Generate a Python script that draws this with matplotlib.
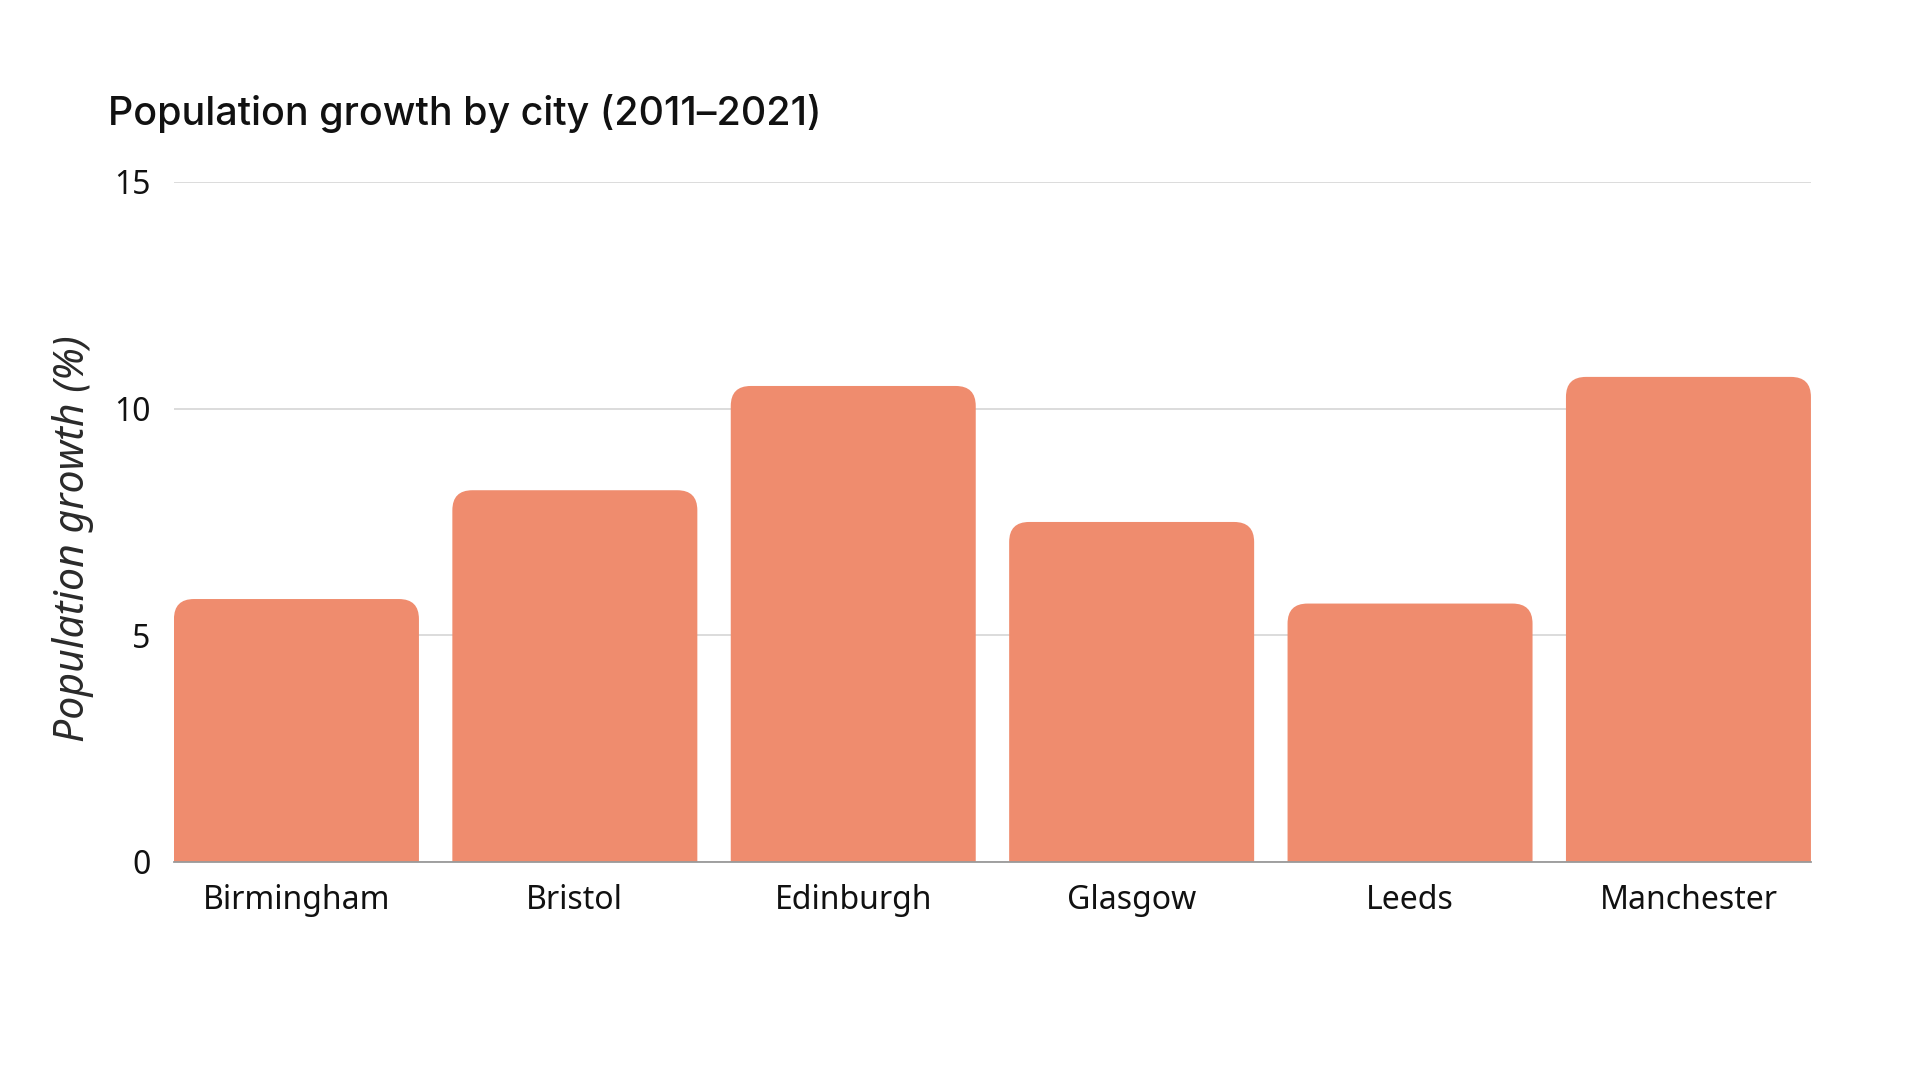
import matplotlib.pyplot as plt
from matplotlib.patches import FancyBboxPatch

# data
cities = ["Birmingham", "Bristol", "Edinburgh", "Glasgow", "Leeds", "Manchester"]
growth = [5.8, 8.2, 10.5, 7.5, 5.7, 10.7]
yticks = [0, 5, 10, 15]

BAR_COLOR = "#EF8C6E"
W = 0.88

fig = plt.figure(figsize=(19.2, 10.8), dpi=100)
ax = fig.add_axes([0.0906, 0.2019, 0.9432 - 0.0906, 0.8315 - 0.2019])

bars = ax.bar(range(len(cities)), growth, W, color=BAR_COLOR)
ax.set_xlim(-W / 2, len(cities) - 1 + W / 2)
ax.set_ylim(0, 15)

# swap plain bars for ones with rounded top corners
fig.canvas.draw()
x0, y0 = ax.transData.transform((0, 0))
x1, y1 = ax.transData.transform((1, 1))
ppu_x, ppu_y = x1 - x0, y1 - y0
r_px = 20
rx = r_px / ppu_x
ry = r_px / ppu_y
for b in bars:
    b.set_visible(False)
    p = FancyBboxPatch((b.get_x(), -ry), b.get_width(), b.get_height() + ry,
                       boxstyle=f"round,pad=0,rounding_size={rx}",
                       mutation_aspect=ry / rx,
                       facecolor=BAR_COLOR, edgecolor="none", zorder=2)
    ax.add_patch(p)

ax.set_yticks(yticks)
ax.set_yticklabels([str(t) for t in yticks], family="Noto Sans", fontsize=23)
ax.set_xticks(range(len(cities)))
ax.set_xticklabels(cities, family="Noto Sans", fontsize=23)
ax.tick_params(axis="both", length=0, colors="#111111")
ax.tick_params(axis="y", pad=17)
ax.tick_params(axis="x", pad=16)

ax.grid(axis="y", color="#d6d6d6", linewidth=1.2, zorder=0)
ax.set_axisbelow(True)
for s in ["top", "right", "left"]:
    ax.spines[s].set_visible(False)
ax.spines["bottom"].set_color("#9a9a9a")
ax.spines["bottom"].set_linewidth(1.3)
ax.spines["bottom"].set_zorder(3)

ax.set_ylabel("Population growth (%)", family="Noto Sans", style="italic",
              fontweight="light", fontsize=29.5, color="#2a2a2a")
ax.yaxis.set_label_coords(-0.049, 0.475)

fig.text(0.05625, 0.884, "Population growth by city (2011\u20132021)",
         family="Inter", fontweight="medium", fontsize=28.4, color="#111111",
         va="baseline", ha="left")

fig.savefig("out.png", dpi=100)
